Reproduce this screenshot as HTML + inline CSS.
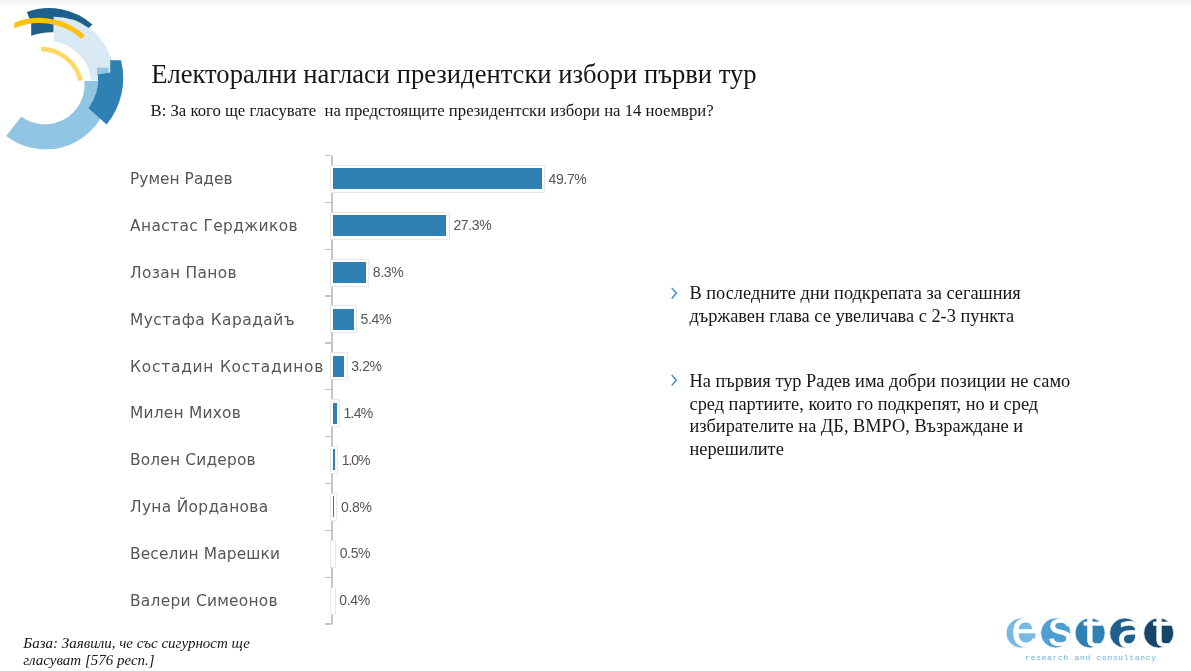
<!DOCTYPE html>
<html lang="bg">
<head>
<meta charset="utf-8">
<title>Електорални нагласи</title>
<style>
html,body{margin:0;padding:0;}
body{width:1191px;height:671px;position:relative;overflow:hidden;background:#fff;font-family:"Liberation Serif","DejaVu Serif",serif;color:#1a1a1a;}
#page{position:absolute;left:0;top:0;width:1191px;height:671px;will-change:transform;}
.topshade{position:absolute;left:0;top:0;width:1191px;height:8px;background:linear-gradient(#f1f1f1,#ffffff);}
.title{position:absolute;left:151.2px;top:58px;font-size:26.6px;line-height:32px;white-space:nowrap;color:#161616;}
.sub{position:absolute;left:150.5px;top:100.5px;font-size:16.72px;line-height:20px;white-space:nowrap;color:#161616;}
.lab{position:absolute;left:130px;font-family:"DejaVu Sans","Liberation Sans",sans-serif;font-size:15.4px;line-height:20px;color:#565656;white-space:nowrap;}
.val{position:absolute;font-family:"Liberation Sans","DejaVu Sans",sans-serif;font-size:14px;line-height:16px;letter-spacing:-0.35px;color:#555;white-space:nowrap;}
.bar{position:absolute;left:331.1px;height:26px;background:#fff;box-shadow:0 0 0 0.8px #e4e4e4,0 0 2px rgba(0,0,0,0.10);box-sizing:border-box;}
.bar i{position:absolute;left:2.4px;right:2.4px;top:2.6px;bottom:2.6px;background:#2f80b3;}
.axis{position:absolute;left:331px;top:155.5px;width:1.5px;height:468.5px;background:#c6c6c6;}
.tick{position:absolute;left:325.2px;width:7px;height:1.4px;background:#c6c6c6;}
.bul{position:absolute;left:689.5px;font-size:18.33px;line-height:22.9px;color:#161616;white-space:nowrap;}
.chev{position:absolute;left:669px;}
.foot{position:absolute;left:23.3px;top:634.7px;font-size:15px;line-height:17.2px;font-style:italic;color:#161616;white-space:nowrap;}
.logo{position:absolute;left:1000px;top:610px;}
</style>
</head>
<body>
<div id="page">
<div class="topshade"></div>

<svg class="swirl" width="140" height="160" viewBox="0 0 140 160" style="position:absolute;left:0;top:0">
<path fill="#92c5e3" d="M21.3,116.4 A39.6,39.6 0 0 0 84.4,81.1 L110.2,81.1 A64.7,64.7 0 0 1 6.1,135.9 Z"/>
<path fill="#d9eaf5" d="M53.7,16.7 A59.1,59.1 0 0 1 113.4,80.5 L91,80.5 A43.4,43.4 0 0 0 53.7,41.5 Z"/>
<rect fill="#92c5e3" x="97" y="67.7" width="11.5" height="8"/>
<path fill="#2f80b3" d="M98,74.6 L110.2,72.6 L110.2,60.2 L121,60.2 A73.2,73.2 0 0 1 106.6,124.6 L88.5,108.2 A48.5,48.5 0 0 0 98,74.6 Z"/>
<path fill="#1f5f8b" d="M26.8,11.9 A65.7,65.7 0 0 1 92.4,24.4 L88.8,28 A59.1,59.1 0 0 0 53.7,16.7 L53.4,32.2 A60,60 0 0 0 31.2,35.8 L31.2,23 Z"/>
<clipPath id="yc"><rect x="14.3" y="0" width="100" height="60"/></clipPath>
<path clip-path="url(#yc)" fill="none" stroke="#fcc112" stroke-width="5.2" d="M10,27.6 A65.4,65.4 0 0 1 83.2,37.1"/>
<path fill="none" stroke="#fed966" stroke-width="4.6" d="M41.1,48.9 A41.5,41.5 0 0 1 80.6,80.5"/>
</svg>

<div class="title">Електорални нагласи президентски избори първи тур</div>
<div class="sub">В: За кого ще гласувате&nbsp; на предстоящите президентски избори на 14 ноември?</div>

<div id="chart">
<div class="axis"></div>
<div class="tick" style="top:154.9px"></div>
<div class="tick" style="top:201.8px"></div>
<div class="tick" style="top:248.6px"></div>
<div class="tick" style="top:295.4px"></div>
<div class="tick" style="top:342.3px"></div>
<div class="tick" style="top:389.1px"></div>
<div class="tick" style="top:436.0px"></div>
<div class="tick" style="top:482.8px"></div>
<div class="tick" style="top:529.7px"></div>
<div class="tick" style="top:576.6px"></div>
<div class="tick" style="top:623.4px"></div>
<div class="lab" style="top:169.1px;letter-spacing:0.027px">Румен Радев</div>
<div class="bar" style="top:165.8px;width:212.8px"><i></i></div>
<div class="val" style="top:170.5px;left:548.5px">49.7%</div>
<div class="lab" style="top:216.0px;letter-spacing:0.403px">Анастас Герджиков</div>
<div class="bar" style="top:212.7px;width:117.7px"><i></i></div>
<div class="val" style="top:217.4px;left:453.4px">27.3%</div>
<div class="lab" style="top:262.8px;letter-spacing:0.338px">Лозан Панов</div>
<div class="bar" style="top:259.5px;width:37.1px"><i></i></div>
<div class="val" style="top:264.2px;left:372.8px">8.3%</div>
<div class="lab" style="top:309.7px;letter-spacing:0.490px">Мустафа Карадайъ</div>
<div class="bar" style="top:306.4px;width:24.8px"><i></i></div>
<div class="val" style="top:311.1px;left:360.5px">5.4%</div>
<div class="lab" style="top:356.5px;letter-spacing:0.789px">Костадин Костадинов</div>
<div class="bar" style="top:353.2px;width:15.5px"><i></i></div>
<div class="val" style="top:357.9px;left:351.2px">3.2%</div>
<div class="lab" style="top:403.4px;letter-spacing:0.228px">Милен Михов</div>
<div class="bar" style="top:400.1px;width:7.8px"><i></i></div>
<div class="val" style="top:404.8px;left:343.5px;letter-spacing:-0.7px">1.4%</div>
<div class="lab" style="top:450.2px;letter-spacing:0.187px">Волен Сидеров</div>
<div class="bar" style="top:446.9px;width:6.1px"><i></i></div>
<div class="val" style="top:451.6px;left:341.8px;letter-spacing:-1.1px">1.0%</div>
<div class="lab" style="top:497.1px;letter-spacing:0.329px">Луна Йорданова</div>
<div class="bar" style="top:493.8px;width:5.3px"><i></i></div>
<div class="val" style="top:498.5px;left:341.0px">0.8%</div>
<div class="lab" style="top:543.9px;letter-spacing:0.136px">Веселин Марешки</div>
<div class="bar" style="top:540.6px;width:4.0px"></div>
<div class="val" style="top:545.3px;left:339.7px">0.5%</div>
<div class="lab" style="top:590.8px;letter-spacing:0.274px">Валери Симеонов</div>
<div class="bar" style="top:587.5px;width:3.6px"></div>
<div class="val" style="top:592.2px;left:339.3px">0.4%</div>
</div><!--/chart-->

<div class="bul" style="top:281.8px;line-height:23.4px">В последните дни подкрепата за сегашния<br>държавен глава се увеличава с 2-3 пункта</div>
<div class="bul" style="top:369.6px">На първия тур Радев има добри позиции не само<br>сред партиите, които го подкрепят, но и сред<br>избирателите на ДБ, ВМРО, Възраждане и<br>нерешилите</div>

<svg class="chev" style="top:286px" width="12" height="16" viewBox="0 0 12 16"><path d="M2.7,1.9 L7.3,7.2 L2.7,12.5" fill="none" stroke="#3a8ac4" stroke-width="1.4"/></svg>
<svg class="chev" style="top:373px" width="12" height="16" viewBox="0 0 12 16"><path d="M2.7,1.9 L7.3,7.2 L2.7,12.5" fill="none" stroke="#3a8ac4" stroke-width="1.4"/></svg>

<div class="foot">База: Заявили, че със сигурност ще<br>гласуват [576 респ.]</div>

<svg class="logo" width="191" height="61" viewBox="1000 610 191 61">
<defs>
<clipPath id="c1"><circle cx="1021.1" cy="633" r="15"/></clipPath>
<clipPath id="c2"><circle cx="1055.7" cy="633" r="15"/></clipPath>
<clipPath id="c3"><circle cx="1090.1" cy="633" r="15"/></clipPath>
<clipPath id="c4"><circle cx="1124.7" cy="633" r="15"/></clipPath>
<clipPath id="c5"><circle cx="1158.7" cy="633" r="15"/></clipPath>
</defs>
<g style="font-family:'Liberation Sans','DejaVu Sans',sans-serif;font-size:47px" fill="#fff" stroke="#fff" stroke-width="0.7">
<circle cx="1021.1" cy="633" r="15" fill="#79b8e0"/>
<g clip-path="url(#c1)"><text transform="translate(1011.4,646.4) scale(0.97,1)" font-size="52">e</text></g>
<circle cx="1055.7" cy="633" r="15" fill="#4d9fd3"/>
<g clip-path="url(#c2)"><text transform="translate(1048.3,646.2) scale(0.98,1)" font-size="50">s</text></g>
<circle cx="1090.1" cy="633" r="15" fill="#2f80b3"/>
<g clip-path="url(#c3)"><text transform="translate(1082.6,646.6) scale(1.15,1)" style="font-family:'DejaVu Sans','Liberation Sans',sans-serif;font-size:46px" stroke-width="0.3">t</text></g>
<circle cx="1124.7" cy="633" r="15" fill="#1f5f8b"/>
<g clip-path="url(#c4)"><text transform="translate(1116.9,646.5) scale(0.95,1)" style="font-family:'DejaVu Sans','Liberation Sans',sans-serif;font-size:45.6px" stroke-width="0.9">a</text></g>
<circle cx="1158.7" cy="633" r="15" fill="#17456a"/>
<g clip-path="url(#c5)"><text transform="translate(1151.8,646.6) scale(1.15,1)" style="font-family:'DejaVu Sans','Liberation Sans',sans-serif;font-size:46px" stroke-width="0.3">t</text></g>
</g>
<text x="1025.2" y="660.2" font-family="Liberation Mono, DejaVu Sans Mono, monospace" font-size="8" letter-spacing="0.68" fill="#6db0dc">research and consultancy</text>
</svg>
</div>
</body>
</html>
